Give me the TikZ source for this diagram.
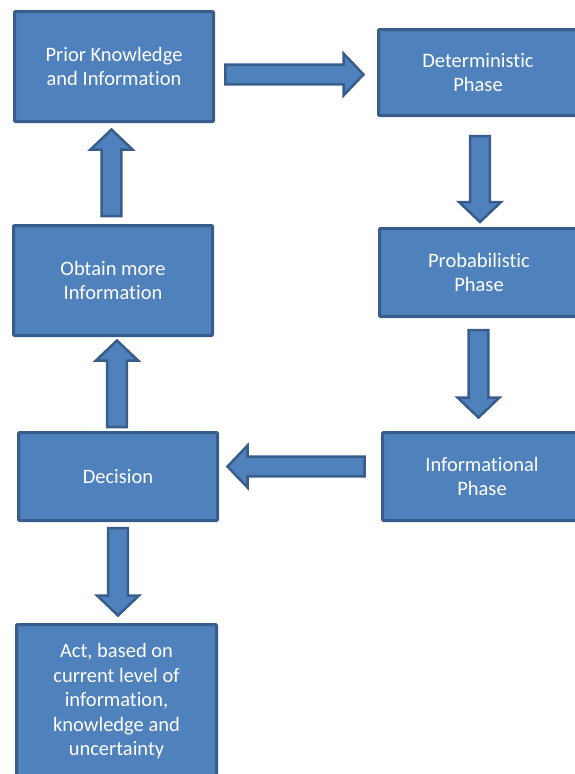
\documentclass[tikz,border=0pt]{standalone}
\usepackage{fontspec}
\setmainfont[Ligatures=NoCommon]{Carlito}
\usetikzlibrary{calc}

\definecolor{boxfill}{HTML}{4F81BD}
\definecolor{boxline}{HTML}{385D8A}

\tikzset{
  stagebox/.style={draw=boxline, fill=boxfill, line width=3pt, rounded corners=1pt,
    minimum width=199pt, outer sep=0pt, inner sep=2pt, align=center, text=white,
    font=\fontsize{20.5}{24.5}\selectfont},
  blockarrow/.style={draw=boxline, fill=boxfill, line width=2.5pt}
}

% Block arrow from #1 to the tip #2: shaft half-width 9.8pt,
% head half-width 21pt, head length 20pt.
\newcommand\blockarrow[2]{%
  \coordinate (ba-h) at ($(#2)!20pt!(#1)$);
  \draw[blockarrow]
    ($(#1)!9.8pt!90:(#2)$) -- ($(ba-h)!9.8pt!90:(#2)$) --
    ($(ba-h)!21pt!90:(#2)$) -- (#2) -- ($(ba-h)!21pt!-90:(#2)$) --
    ($(ba-h)!9.8pt!-90:(#2)$) -- ($(#1)!9.8pt!-90:(#2)$) -- cycle;}

\begin{document}
\begin{tikzpicture}[x=1pt, y=-1pt]
  \useasboundingbox (0,0) rectangle (575,774);
  \begin{scope}
  \clip (0,0) rectangle (575,774);

  % stages
  \node[stagebox, minimum height=110pt] (prior) at (114,66.5) {Prior Knowledge\\and Information};
  \node[stagebox, minimum height=110pt] (obtain) at (113,280.5) {Obtain more\\Information};
  \node[stagebox, minimum height=88pt] (decision) at (118,476.5) {Decision};
  \node[stagebox, minimum width=200pt, minimum height=154pt] (act) at (116.5,701.5)
    {Act, based on\\current level of\\information,\\knowledge and\\uncertainty};
  \node[stagebox, minimum height=86pt] (det) at (478,72.5) {Deterministic\\Phase};
  \node[stagebox, minimum height=88pt] (prob) at (479,272.5) {Probabilistic\\Phase};
  \node[stagebox, minimum height=88pt] (info) at (482,476.5) {Informational\\Phase};

  % arrow ends, each tip aligned with its tail
  \coordinate (a1s) at ($(prior.east)+(11.75,8)$);
  \coordinate (a1e) at ($(a1s -| det.west)+(-15,0)$);
  \coordinate (a2s) at ($(det.south)+(2,20.5)$);
  \coordinate (a2e) at ($(a2s |- prob.north)+(0,-6.5)$);
  \coordinate (a3s) at ($(prob.south)+(-0.5,13.5)$);
  \coordinate (a3e) at ($(a3s |- info.north)+(0,-15)$);
  \coordinate (a4s) at ($(info.west)+(-18,-10)$);
  \coordinate (a4e) at ($(a4s -| decision.east)+(10,0)$);
  \coordinate (a5s) at ($(decision.south)+(0,7.5)$);
  \coordinate (a5e) at ($(a5s |- act.north)+(0,-9)$);
  \coordinate (a6s) at ($(decision.north)+(-1,-5.5)$);
  \coordinate (a6e) at ($(a6s |- obtain.south)+(0,5)$);
  \coordinate (a7s) at ($(obtain.north)+(-1.5,-9.5)$);
  \coordinate (a7e) at ($(a7s |- prior.south)+(0,8)$);

  \blockarrow{a1s}{a1e}
  \blockarrow{a2s}{a2e}
  \blockarrow{a3s}{a3e}
  \blockarrow{a4s}{a4e}
  \blockarrow{a5s}{a5e}
  \blockarrow{a6s}{a6e}
  \blockarrow{a7s}{a7e}
  \end{scope}
\end{tikzpicture}
\end{document}
